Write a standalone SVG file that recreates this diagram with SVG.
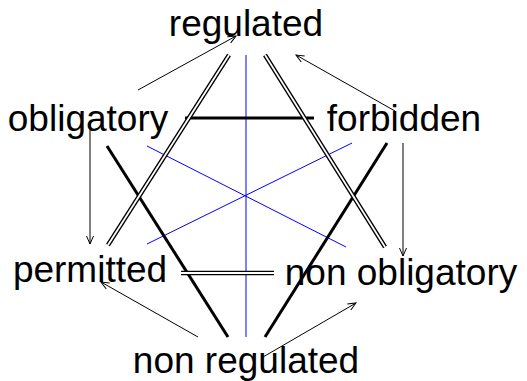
<svg xmlns="http://www.w3.org/2000/svg" width="527" height="381" viewBox="0 0 527 381">
<defs>
<style>
.lbl{font-family:"Liberation Sans",Arial,sans-serif;font-size:37px;fill:#000;text-anchor:middle}
.thin{stroke:#000;stroke-width:1;fill:none}
.thick{stroke:#000;stroke-width:3;fill:none}
.blue{stroke:#0000ff;stroke-width:1;fill:none}
.dbo{stroke:#000;stroke-width:4.5;fill:none}
.dbi{stroke:#fff;stroke-width:1.8;fill:none}
</style>
<marker id="ah" markerUnits="userSpaceOnUse" markerWidth="12" markerHeight="12" refX="9" refY="4.5" orient="auto">
<path d="M1,1 L9,4.5 L1,8" fill="none" stroke="#000" stroke-width="1"/>
</marker>
</defs>
<rect width="527" height="381" fill="#fff"/>
<g id="connectors">
<line class="blue" x1="246" y1="55" x2="246" y2="337"/>
<line class="blue" x1="147" y1="146" x2="346" y2="247"/>
<line class="blue" x1="352" y1="143" x2="147" y2="244"/>
<line class="thick" x1="185" y1="118" x2="314" y2="118"/>
<line class="thick" x1="107" y1="146" x2="228" y2="337"/>
<line class="thick" x1="387" y1="143" x2="265" y2="337"/>
<line class="dbo" x1="229" y1="55" x2="108" y2="245"/>
<line class="dbi" x1="229" y1="55" x2="108" y2="245"/>
<line class="dbo" x1="265" y1="55" x2="385" y2="247"/>
<line class="dbi" x1="265" y1="55" x2="385" y2="247"/>
<line class="dbo" x1="181" y1="273" x2="274" y2="273"/>
<line class="dbi" x1="181" y1="273" x2="274" y2="273"/>
<line class="thin" x1="138" y1="90" x2="236" y2="36" marker-end="url(#ah)"/>
<line class="thin" x1="395" y1="111" x2="296" y2="55" marker-end="url(#ah)"/>
<line class="thin" x1="90" y1="130" x2="90" y2="244" marker-end="url(#ah)"/>
<line class="thin" x1="403" y1="143" x2="403" y2="256" marker-end="url(#ah)"/>
<line class="thin" x1="198" y1="337" x2="101" y2="282" marker-end="url(#ah)"/>
<line class="thin" x1="263" y1="357" x2="356" y2="303" marker-end="url(#ah)"/>
</g>
<g id="regulated"><text class="lbl" x="246" y="36">regulated</text></g>
<g id="obligatory"><text class="lbl" x="88" y="131">obligatory</text></g>
<g id="forbidden"><text class="lbl" x="404" y="131">forbidden</text></g>
<g id="permitted"><text class="lbl" x="90" y="282">permitted</text></g>
<g id="non_obligatory"><text class="lbl" x="401" y="285">non obligatory</text></g>
<g id="non_regulated"><text class="lbl" x="246" y="373">non regulated</text></g>
</svg>
